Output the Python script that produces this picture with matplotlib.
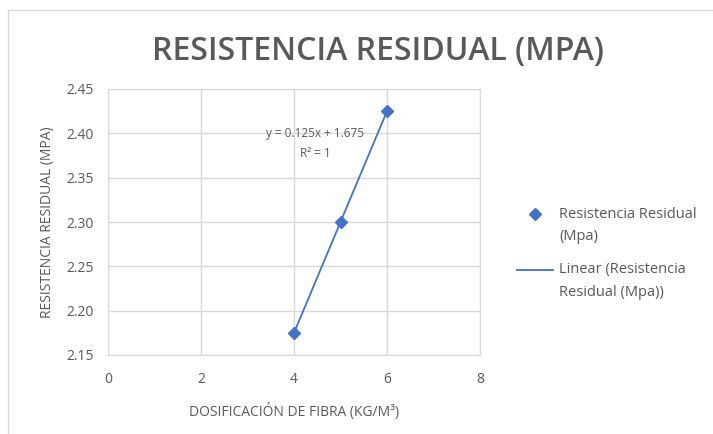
import matplotlib
matplotlib.use("Agg")
import matplotlib.pyplot as plt
import numpy as np
from matplotlib.patches import Rectangle
from matplotlib.lines import Line2D

x_vals = [4, 5, 6]
y_vals = [2.175, 2.300, 2.425]
slope = 0.125
intercept = 1.675
x_ticks = [0, 2, 4, 6, 8]
y_ticks = [2.15, 2.20, 2.25, 2.30, 2.35, 2.40, 2.45]
title = "RESISTENCIA RESIDUAL (MPA)"
xlabel = "DOSIFICACIÓN DE FIBRA (KG/M³)"
ylabel = "RESISTENCIA RESIDUAL (MPA)"
series_label = "Resistencia Residual\n(Mpa)"
trend_label = "Linear (Resistencia\nResidual (Mpa))"

plt.rcParams['font.family'] = ['Open Sans', 'DejaVu Sans']
blue = '#4472C4'
grey_txt = '#595959'

W, H = 713, 434
fig = plt.figure(figsize=(W/100, H/100), dpi=100)
fig.patches.append(Rectangle((8/W, -0.01), 1.0, 1 - 10/H + 0.01, transform=fig.transFigure,
                             fill=False, edgecolor='#D9D9D9', linewidth=1.0))

ax = fig.add_axes([108/W, 1 - 355/H, (480-108)/W, (355-89)/H])
ax.set_xlim(0, 8)
ax.set_ylim(2.15, 2.45)
ax.set_xticks(x_ticks)
ax.set_yticks(y_ticks)
ax.set_yticklabels([f"{v:.2f}" for v in y_ticks])
ax.grid(True, color='#D9D9D9', linewidth=1.0)
ax.set_axisbelow(True)
for s in ax.spines.values():
    s.set_color('#D9D9D9')
ax.tick_params(length=0, labelsize=10, labelcolor=grey_txt)
ax.tick_params(axis='x', pad=12)
ax.tick_params(axis='y', pad=10)

xf = np.array([min(x_vals), max(x_vals)], dtype=float)
ax.plot(xf, slope * xf + intercept, color=blue, linewidth=1.3, zorder=2, label=trend_label)
ax.plot(x_vals, y_vals, linestyle='none', marker='D', markersize=6.5, color=blue, zorder=3,
        label=series_label)

ax.text(4.45, 2.388, f"y = {slope}x + {intercept}\nR² = 1", ha='center', va='center',
        fontsize=8.5, color=grey_txt, linespacing=1.7)

ax.set_xlabel(xlabel, fontsize=10, color=grey_txt, labelpad=12)
ax.set_ylabel(ylabel, fontsize=10, color=grey_txt, labelpad=8)

fig.text(378/W, 1 - 51/H, title, ha='center', va='center', fontsize=23,
         fontweight='semibold', color=grey_txt)

# legend (drawn in figure coordinates)
def fy(py):
    return 1 - py / H

fig.add_artist(Line2D([535/W], [fy(214)], linestyle='none', marker='D', markersize=6,
                      color=blue, transform=fig.transFigure))
fig.add_artist(Line2D([517/W, 553/W], [fy(270), fy(270)], color=blue, linewidth=1.3,
                      transform=fig.transFigure))
for py, label in [(214, series_label), (270, trend_label)]:
    lines = label.split("\n")
    for i, ln in enumerate(lines):
        fig.text(559/W, fy(py + 22 * i), ln, ha='left', va='center', fontsize=10.5,
                 color=grey_txt)

fig.savefig("out.png", dpi=100)
